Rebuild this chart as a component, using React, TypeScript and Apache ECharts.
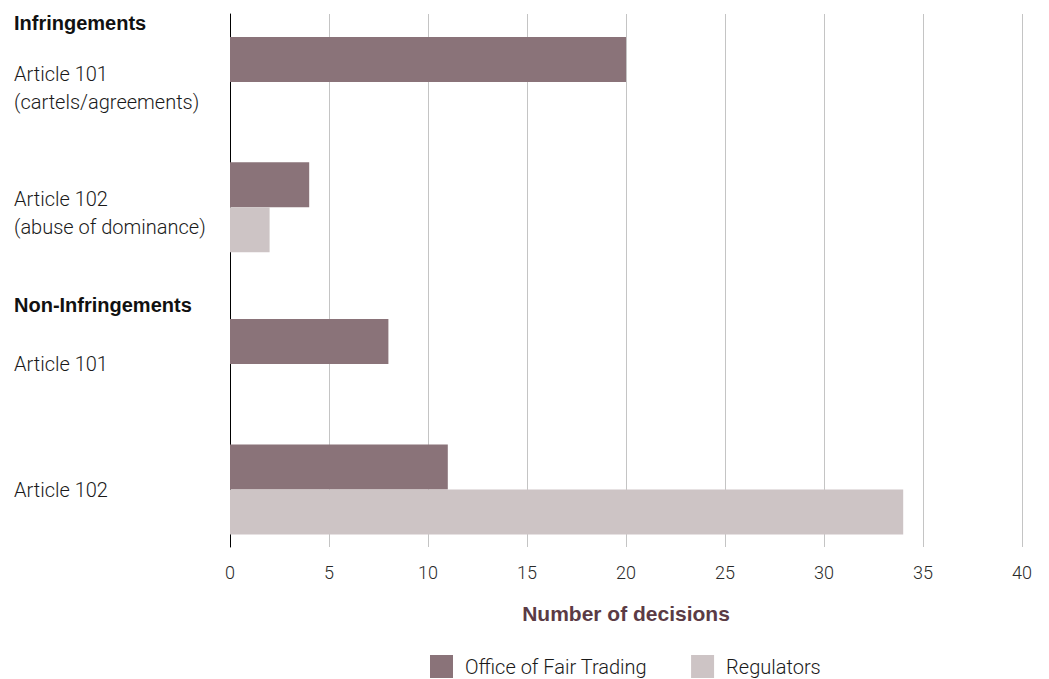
import React, { useEffect, useRef } from "react";
import * as echarts from "echarts";

// ---- data ----
const rowLabels = [
  "Infringements",
  "Article 101\n(cartels/agreements)",
  "Article 102\n(abuse of dominance)",
  "Non-Infringements",
  "Article 101",
  "Article 102",
];
const headerRows = ["Infringements", "Non-Infringements"];
const officeOfFairTrading: (number | null)[] = [null, 20, 4, null, 8, 11];
const regulators: (number | null)[] = [null, null, 2, null, null, 34];
const seriesNames = ["Office of Fair Trading", "Regulators"];
const axisTitle = "Number of decisions";
const xMin = 0;
const xMax = 40;
const xStep = 5;

// ---- layout (row placement on a fine slot grid) ----
const SLOT_COUNT = 51;
const ROW_SLOTS = [0, 6, 18, 27, 33, 45];

const slotCategories = Array.from({ length: SLOT_COUNT }, (_, i) => {
  const r = ROW_SLOTS.indexOf(i);
  return r >= 0 ? rowLabels[r] : `gap-${i}`;
});
const toSlots = (values: (number | null)[]) =>
  Array.from({ length: SLOT_COUNT }, (_, i) => {
    const r = ROW_SLOTS.indexOf(i);
    return r >= 0 ? values[r] : null;
  });

const LIGHT = "Roboto";
const BOLD = "Liberation Sans";

export default function App() {
  const ref = useRef<HTMLDivElement>(null);
  useEffect(() => {
    if (!ref.current) return;
    const chart = echarts.init(ref.current, undefined, { renderer: "svg" });
    chart.setOption({
      animation: false,
      backgroundColor: "#ffffff",
      grid: { left: 230, right: 27, top: 14, bottom: 132, containLabel: false },
      legend: {
        data: seriesNames,
        left: 430,
        top: 655,
        padding: 0,
        icon: "rect",
        itemWidth: 23,
        itemHeight: 23,
        itemGap: 44,
        textStyle: {
          fontFamily: LIGHT,
          fontWeight: 300,
          fontSize: 20,
          lineHeight: 22,
          color: "#1a1a1a",
          padding: [0, 0, 0, 7],
        },
      },
      xAxis: {
        type: "value",
        min: xMin,
        max: xMax,
        interval: xStep,
        axisLine: { show: false },
        axisTick: { show: false },
        splitLine: { show: true, lineStyle: { color: "#c4c4c4", width: 1 } },
        axisLabel: {
          fontFamily: LIGHT,
          fontWeight: 300,
          fontSize: 18,
          color: "#2a2a2a",
          margin: 16,
        },
        name: axisTitle,
        nameLocation: "middle",
        nameGap: 56,
        nameTextStyle: {
          fontFamily: BOLD,
          fontWeight: "bold",
          fontSize: 21,
          color: "#5b3b45",
        },
      },
      yAxis: {
        type: "category",
        inverse: true,
        data: slotCategories,
        axisLine: { show: true, lineStyle: { color: "#000000", width: 1 } },
        axisTick: { show: false },
        splitLine: { show: false },
        axisLabel: {
          interval: 0,
          align: "left",
          margin: 216,
          formatter: (value: string) => {
            if (value.startsWith("gap-")) return "";
            if (headerRows.includes(value)) return `{s7| }\n{h|${value}}`;
            const lines = value.split("\n");
            if (lines.length > 1)
              return `{s12| }\n` + lines.map((l) => `{n|${l}}`).join("\n");
            return `{n|${value}}`;
          },
          rich: {
            s7: { lineHeight: 7, fontSize: 4 },
            s12: { lineHeight: 12, fontSize: 4 },
            h: {
              fontFamily: BOLD,
              fontWeight: "bold",
              fontSize: 20,
              lineHeight: 24,
              color: "#111111",
            },
            n: {
              fontFamily: LIGHT,
              fontWeight: 300,
              fontSize: 20,
              lineHeight: 28,
              color: "#1a1a1a",
            },
          },
        },
      },
      series: [
        {
          name: seriesNames[0],
          type: "bar",
          data: toSlots(officeOfFairTrading),
          barWidth: 45,
          barGap: "0%",
          itemStyle: { color: "#8a7379" },
        },
        {
          name: seriesNames[1],
          type: "bar",
          data: toSlots(regulators),
          barWidth: 45,
          barGap: "0%",
          itemStyle: { color: "#cdc4c5" },
        },
      ],
    });
    return () => chart.dispose();
  }, []);
  return (
    <div
      ref={ref}
      style={{ position: "fixed", left: 0, top: 0, width: 1049, height: 679 }}
    />
  );
}
